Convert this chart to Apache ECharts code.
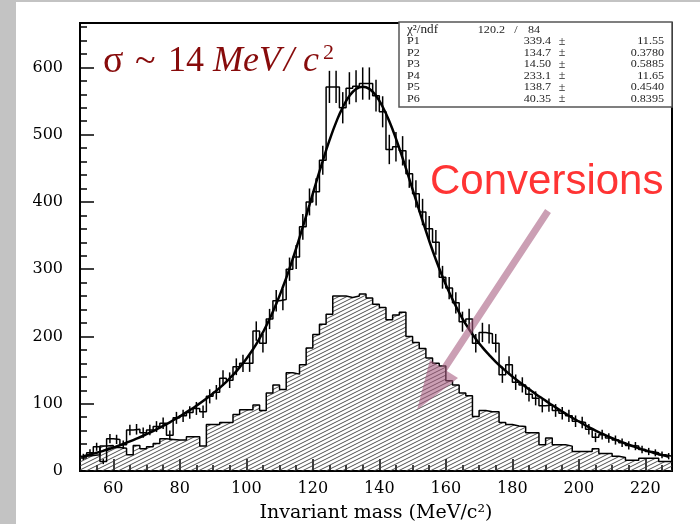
<!DOCTYPE html>
<html>
<head>
<meta charset="utf-8">
<script src="https://cdn.jsdelivr.net/npm/echarts@6/dist/echarts.min.js"></script>
<style>
    html, body { margin: 0; padding: 0; background: #c3c3c3; }
    #echar { position: absolute; left: 16px; top: 2px; width: 684px; height: 522px; background: #fff; }
</style>
</head>
<body>
<div id="echar"></div>
<script>
// bin centres, 2 MeV bins from 50 to 228
var massBins = [];
for (var i = 0; i < 89; i++) {
    massBins.push(51 + 2 * i);
}

// all events (histogram with error bars)
var counts = [21, 27, 36, 14, 48, 47, 39, 61, 62, 57, 61, 66, 71, 53, 79, 82, 87, 93, 88, 111,
    117, 138, 135, 155, 160, 160, 208, 190, 226, 253, 255, 300, 318, 363, 400, 415, 462, 571, 571, 540,
    569, 572, 576, 576, 558, 534, 478, 482, 476, 442, 412, 385, 360, 340, 288, 272, 250, 222, 226, 190,
    206, 204, 190, 143, 158, 132, 128, 114, 108, 97, 98, 90, 86, 82, 74, 72, 62, 50, 54, 49,
    46, 42, 38, 37, 32, 29, 27, 24, 22];

// conversions (hatched histogram)
var conversions = [22, 23, 24, 37, 38, 35, 34, 24, 38, 33, 36, 41, 48, 47, 46, 46, 51, 51, 37, 69,
    69, 72, 72, 84, 91, 91, 98, 90, 116, 128, 121, 146, 144, 158, 183, 203, 218, 233, 260, 260,
    258, 260, 263, 257, 248, 243, 225, 232, 236, 200, 191, 182, 168, 160, 156, 134, 128, 116, 112, 81,
    90, 88, 88, 72, 69, 67, 66, 57, 57, 39, 49, 39, 39, 37, 29, 29, 29, 33, 26, 26,
    22, 20, 16, 16, 19, 19, 19, 14, 14];

// fit curve read at the bin centres
var fitCurve = [22, 24.4, 27.1, 30, 33.1, 36.5, 40.1, 44, 48.1, 52.4,
    57, 61.9, 67, 72.4, 78.2, 84.2, 90.5, 97.1, 104.1, 111.6,
    119.5, 128.1, 137.7, 148.2, 160.1, 173.5, 188.7, 206.1, 225.9, 248.4,
    273.5, 301, 331, 362.8, 395.7, 428.9, 461.2, 491.4, 518.3, 540.6,
    557.4, 567.9, 571.4, 568.1, 557.9, 541.5, 519.9, 494, 465.1, 434.3,
    402.9, 372, 342.2, 314.3, 288.8, 265.6, 245.1, 226.7, 210.6, 196.4,
    183.8, 172.6, 162.3, 153.1, 144.5, 136.5, 128.9, 121.7, 114.6, 107.8,
    101.2, 94.6, 88.3, 82.2, 76.3, 70.6, 65.3, 60.1, 55.4, 51,
    46.8, 42.8, 39, 35.5, 32.2, 29.1, 26.3, 23.7, 21.3];

var xTicks = [60, 80, 100, 120, 140, 160, 180, 200, 220];
var xMinorTicks = [55, 65, 70, 75, 85, 90, 95, 105, 110, 115, 125, 130, 135, 145, 150, 155,
    165, 170, 175, 185, 190, 195, 205, 210, 215, 225];
var yTicks = [0, 100, 200, 300, 400, 500, 600];
var yMinorTicks = [20, 40, 60, 80, 120, 140, 160, 180, 220, 240, 260, 280, 320, 340, 360, 380,
    420, 440, 460, 480, 520, 540, 560, 580, 620, 640, 660];

// fit box
var chi2 = '120.2';
var ndf = '84';
var statNames = ['P1', 'P2', 'P3', 'P4', 'P5', 'P6'];
var statValues = ['339.4', '134.7', '14.50', '233.1', '138.7', '40.35'];
var statErrors = ['11.55', '0.3780', '0.5885', '11.65', '0.4540', '0.8395'];

// histogram outline: one point on each lower bin edge, plus the last upper edge
function histSteps(values) {
    var pts = [];
    for (var i = 0; i < values.length; i++) {
        pts.push([massBins[i] - 1, values[i]]);
    }
    pts.push([massBins[values.length - 1] + 1, values[values.length - 1]]);
    return pts;
}

function pairs(values) {
    var pts = [];
    for (var i = 0; i < values.length; i++) {
        pts.push([massBins[i], values[i]]);
    }
    return pts;
}

// hatch pattern for the conversions
var hatch = document.createElement('canvas');
hatch.width = 16;
hatch.height = 8;
var hctx = hatch.getContext('2d');
hctx.strokeStyle = '#3a3a3a';
hctx.lineWidth = 0.9;
for (var k = -2; k <= 3; k++) {
    hctx.beginPath();
    hctx.moveTo(0, 8 + 4 * k);
    hctx.lineTo(16, 4 * k);
    hctx.stroke();
}

var serif = '"Liberation Serif", "Times New Roman", serif';
var red = '#870b0b';
var boxFont = '11px ' + serif;

// fit box texts
var boxTexts = [];
var rowY = [28, 39.5, 51, 62.5, 74, 85.5, 97];
boxTexts.push({ type: 'text', x: 391, y: rowY[0], scaleX: 1.1, z: 101,
    style: { text: 'χ²/ndf', font: '12px ' + serif, fill: '#222', align: 'left', verticalAlign: 'middle' } });
boxTexts.push({ type: 'text', x: 489, y: rowY[0], scaleX: 1.1, z: 101,
    style: { text: chi2, font: boxFont, fill: '#222', align: 'right', verticalAlign: 'middle' } });
boxTexts.push({ type: 'text', x: 500, y: rowY[0], scaleX: 1.1, z: 101,
    style: { text: '/', font: boxFont, fill: '#222', align: 'center', verticalAlign: 'middle' } });
boxTexts.push({ type: 'text', x: 512, y: rowY[0], scaleX: 1.1, z: 101,
    style: { text: ndf, font: boxFont, fill: '#222', align: 'left', verticalAlign: 'middle' } });
for (var r = 0; r < statNames.length; r++) {
    var yy = rowY[r + 1];
    boxTexts.push({ type: 'text', x: 391, y: yy, scaleX: 1.1, z: 101,
        style: { text: statNames[r], font: boxFont, fill: '#222', align: 'left', verticalAlign: 'middle' } });
    boxTexts.push({ type: 'text', x: 535, y: yy, scaleX: 1.1, z: 101,
        style: { text: statValues[r], font: boxFont, fill: '#222', align: 'right', verticalAlign: 'middle' } });
    boxTexts.push({ type: 'text', x: 546, y: yy, z: 101,
        style: { text: '±', font: '12px ' + serif, fill: '#222', align: 'center', verticalAlign: 'middle' } });
    boxTexts.push({ type: 'text', x: 648, y: yy, scaleX: 1.1, z: 101,
        style: { text: statErrors[r], font: boxFont, fill: '#222', align: 'right', verticalAlign: 'middle' } });
}

var myChartIndex = echarts.init(document.getElementById('echar'));

var optionIndex = {
    animation: false,
    grid: {
        left: 64,
        right: 28,
        top: 21,
        bottom: 53,
        outerBoundsMode: 'none',
        show: true,
        borderColor: '#000',
        borderWidth: 2,
        backgroundColor: 'transparent'
    },
    xAxis: [{
        type: 'value',
        min: 50,
        max: 228,
        axisLine: { lineStyle: { color: '#000', width: 2 } },
        axisTick: { inside: true, length: 12, customValues: xTicks, lineStyle: { color: '#000', width: 1.5 } },
        axisLabel: { customValues: xTicks, color: '#000', fontFamily: 'DejaVu Serif', fontSize: 16, margin: 10 },
        splitLine: { show: false },
        name: 'Invariant mass (MeV/c²)',
        nameLocation: 'middle',
        nameGap: 33,
        nameTextStyle: { color: '#000', fontFamily: 'DejaVu Serif', fontSize: 19 }
    }, {
        type: 'value',
        min: 50,
        max: 228,
        position: 'bottom',
        axisLine: { show: false },
        axisTick: { inside: true, length: 6, customValues: xMinorTicks, lineStyle: { color: '#000', width: 1.5 } },
        axisLabel: { show: false },
        splitLine: { show: false }
    }],
    yAxis: [{
        type: 'value',
        min: 0,
        max: 666,
        axisLine: { show: true, lineStyle: { color: '#000', width: 2 } },
        axisTick: { show: true, inside: true, length: 14, customValues: yTicks, lineStyle: { color: '#000', width: 1.5 } },
        axisLabel: { customValues: yTicks, color: '#000', fontFamily: 'DejaVu Serif', fontSize: 16, margin: 17 },
        splitLine: { show: false }
    }, {
        type: 'value',
        min: 0,
        max: 666,
        position: 'left',
        axisLine: { show: false },
        axisTick: { show: true, inside: true, length: 7, customValues: yMinorTicks, lineStyle: { color: '#000', width: 1.5 } },
        axisLabel: { show: false },
        splitLine: { show: false }
    }],
    series: [{
        name: 'Conversions',
        type: 'line',
        step: 'end',
        data: histSteps(conversions),
        symbol: 'none',
        lineStyle: { color: '#000', width: 1.5 },
        areaStyle: { color: { image: hatch, repeat: 'repeat' }, opacity: 1 },
        z: 2
    }, {
        name: 'All',
        type: 'line',
        step: 'end',
        data: histSteps(counts),
        symbol: 'none',
        lineStyle: { color: '#000', width: 1.5 },
        z: 3
    }, {
        name: 'Errors',
        type: 'custom',
        data: pairs(counts),
        renderItem: function (params, api) {
            var x = api.value(0);
            var v = api.value(1);
            var e = Math.sqrt(v);
            var p1 = api.coord([x, v + e]);
            var p2 = api.coord([x, v - e]);
            return {
                type: 'line',
                shape: { x1: p1[0], y1: p1[1], x2: p2[0], y2: p2[1] },
                style: { stroke: '#000', lineWidth: 1.5 }
            };
        },
        z: 4
    }, {
        name: 'Fit',
        type: 'line',
        smooth: true,
        data: pairs(fitCurve),
        symbol: 'none',
        lineStyle: { color: '#000', width: 2.5 },
        z: 5
    }],
    graphic: [
        // fit box
        { type: 'rect', z: 100, shape: { x: 383, y: 20, width: 273, height: 85 },
            style: { fill: '#fff', stroke: '#555', lineWidth: 1.5 } },
        // sigma label
        { type: 'text', x: 87, y: 60, z: 100, style: { text: 'σ', font: '38px ' + serif, fill: red, verticalAlign: 'middle' } },
        { type: 'text', x: 119, y: 60, z: 100, style: { text: '~', font: '38px ' + serif, fill: red, verticalAlign: 'middle' } },
        { type: 'text', x: 152, y: 60, z: 100, style: { text: '14', font: '36px ' + serif, fill: red, verticalAlign: 'middle' } },
        { type: 'text', x: 197, y: 60, z: 100, style: { text: 'MeV', font: 'italic 36px ' + serif, fill: red, verticalAlign: 'middle' } },
        { type: 'text', x: 268, y: 60, z: 100, style: { text: '/', font: 'italic 36px ' + serif, fill: red, verticalAlign: 'middle' } },
        { type: 'text', x: 287, y: 60, z: 100, style: { text: 'c', font: 'italic 36px ' + serif, fill: red, verticalAlign: 'middle' } },
        { type: 'text', x: 307, y: 51, z: 100, style: { text: '2', font: '22px ' + serif, fill: red, verticalAlign: 'middle' } },
        // conversions label and arrow
        { type: 'text', x: 414, y: 180, z: 100,
            style: { text: 'Conversions', font: '42px "Liberation Sans", Arial, sans-serif', fill: '#ff3434', verticalAlign: 'middle' } },
        { type: 'polygon', z: 100,
            shape: { points: [[529.1, 207.1], [534.9, 210.9], [430.9, 368.9], [442, 376], [401, 408], [414, 358], [425.1, 365.1]] },
            style: { fill: 'rgba(165, 90, 125, 0.58)' } }
    ].concat(boxTexts)
};

myChartIndex.setOption(optionIndex);
</script>
</body>
</html>
